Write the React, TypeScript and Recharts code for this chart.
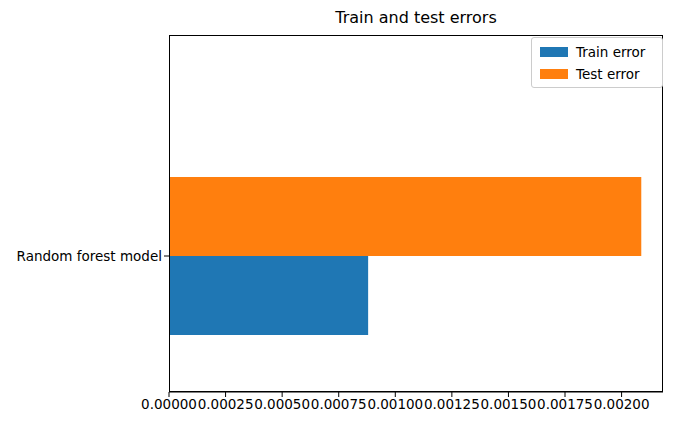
import React from 'react';
import { BarChart, Bar, XAxis, YAxis } from 'recharts';

const categories = ['Random forest model'];
const trainError = [0.00088];
const testError = [0.002087];
const xTicks = [0, 0.00025, 0.0005, 0.00075, 0.001, 0.00125, 0.0015, 0.00175, 0.002];

const data = categories.map((name, i) => ({ name, train: trainError[i], test: testError[i] }));

const font = 'DejaVu Sans, sans-serif';

const App = () => {
  return (
    <div style={{ position: 'absolute', left: 0, top: 0, width: 675, height: 435, background: '#fff', fontFamily: font }}>
      <div style={{ position: 'absolute', top: 8, left: 169, width: 494, textAlign: 'center', fontSize: 16 }}>
        Train and test errors
      </div>
      <BarChart
        width={675}
        height={435}
        data={data}
        layout="vertical"
        margin={{ top: 120, right: 12, left: 0, bottom: 0 }}
        barGap={0}
        barSize={79}
      >
        <XAxis
          type="number"
          domain={[0, 0.002183]}
          ticks={xTicks}
          tickFormatter={(v: number) => v.toFixed(5)}
          height={43}
          stroke="#000"
          tick={{ fill: '#000', fontSize: 13.5, fontFamily: font }}
          tickSize={5}
          interval={0}
        />
        <YAxis
          type="category"
          dataKey="name"
          width={169}
          stroke="#000"
          axisLine={false}
          tick={{ fill: '#000', fontSize: 13.5, fontFamily: font }}
          tickSize={5}
        />
        <Bar dataKey="test" fill="#ff7f0e" isAnimationActive={false} />
        <Bar dataKey="train" fill="#1f77b4" isAnimationActive={false} />
      </BarChart>
      <div style={{ position: 'absolute', left: 169, top: 35, width: 494, height: 357, border: '1px solid #000', boxSizing: 'border-box', pointerEvents: 'none' }} />
      <div style={{ position: 'absolute', left: 531, top: 37, width: 132, height: 51, border: '1px solid #ccc', borderRadius: 3, background: 'rgba(255,255,255,0.8)', fontSize: 13.5, padding: '3px 0 0 8px', boxSizing: 'border-box' }}>
        {[['Train error', '#1f77b4'], ['Test error', '#ff7f0e']].map(([label, color]) => (
          <div key={label} style={{ display: 'flex', alignItems: 'center', height: 22 }}>
            <span style={{ display: 'inline-block', width: 28, height: 10, background: color, marginRight: 8 }} />
            {label}
          </div>
        ))}
      </div>
    </div>
  );
};

export default App;
